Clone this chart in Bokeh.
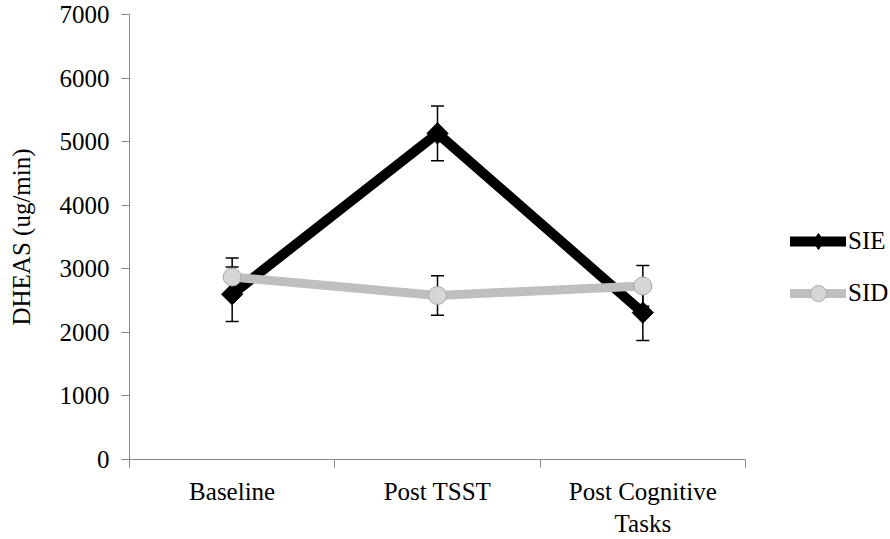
import math
from bokeh.plotting import figure
from bokeh.models import (ColumnDataSource, Range1d, FixedTicker, Whisker, TeeHead,
                          Legend, LegendItem)
from bokeh.embed import file_html
from bokeh.resources import INLINE

# ---- data ----
categories = ["Baseline", "Post TSST", "Post Cognitive\nTasks"]
sie_mean = [2600, 5130, 2310]
sie_err = [430, 430, 440]
sid_mean = [2870, 2580, 2730]
sid_err = [300, 310, 320]
y_ticks = [0, 1000, 2000, 3000, 4000, 5000, 6000, 7000]

FONT = "Liberation Serif"
FS = "25px"
AXIS_GRAY = "#8a8a8a"

x_pos = [i + 0.5 for i in range(len(categories))]
boundaries = list(range(len(categories) + 1))

p = figure(frame_width=616, frame_height=445,
           min_border_left=129, min_border_top=14, min_border_bottom=76, min_border_right=145,
           x_range=Range1d(0, len(categories)), y_range=Range1d(0, 7000),
           output_backend="svg", toolbar_location=None)
p.xgrid.visible = False
p.ygrid.visible = False
p.outline_line_color = None
p.background_fill_color = "white"
p.border_fill_color = "white"

# y axis
ya = p.yaxis[0]
ya.ticker = FixedTicker(ticks=y_ticks)
ya.axis_line_color = AXIS_GRAY
ya.major_tick_line_color = AXIS_GRAY
ya.minor_tick_line_color = None
ya.major_tick_in = 0
ya.major_tick_out = 8
ya.major_label_standoff = 12
ya.major_label_text_font = FONT
ya.major_label_text_font_size = FS
ya.major_label_text_color = "black"
ya.axis_label = "DHEAS (ug/min)"
ya.axis_label_text_font = FONT
ya.axis_label_text_font_size = FS
ya.axis_label_text_font_style = "normal"
ya.axis_label_text_color = "black"
ya.axis_label_standoff = 22

# x axis
xa = p.xaxis[0]
xa.ticker = FixedTicker(ticks=x_pos, minor_ticks=boundaries)
xa.major_label_overrides = {x_pos[i]: categories[i] for i in range(len(categories))}
xa.axis_line_color = AXIS_GRAY
xa.major_tick_line_color = None
xa.minor_tick_line_color = AXIS_GRAY
xa.minor_tick_in = 0
xa.minor_tick_out = 8
xa.major_label_standoff = 10
xa.major_label_text_font = FONT
xa.major_label_text_font_size = FS
xa.major_label_text_color = "black"

# sources
src_sie = ColumnDataSource(dict(
    x=x_pos, y=sie_mean,
    upper=[m + e for m, e in zip(sie_mean, sie_err)],
    lower=[m - e for m, e in zip(sie_mean, sie_err)]))
src_sid = ColumnDataSource(dict(
    x=x_pos, y=sid_mean,
    upper=[m + e for m, e in zip(sid_mean, sid_err)],
    lower=[m - e for m, e in zip(sid_mean, sid_err)]))

for src in (src_sie, src_sid):
    w = Whisker(source=src, base="x", upper="upper", lower="lower", dimension="height",
                line_color="black", line_width=1.5,
                upper_head=TeeHead(size=13, line_color="black", line_width=1.5),
                lower_head=TeeHead(size=13, line_color="black", line_width=1.5))
    p.add_layout(w)

l1 = p.line("x", "y", source=src_sie, line_color="black", line_width=10,
            line_cap="round", line_join="round")
# diamond used for the legend key (sits under the rotated square marks)
m1_key = p.scatter("x", "y", source=src_sie, marker="diamond", size=15,
                   fill_color="black", line_color="black")
m1 = p.scatter("x", "y", source=src_sie, marker="square", angle=math.pi / 4, size=15,
               fill_color="black", line_color="black")
l2 = p.line("x", "y", source=src_sid, line_color="#bfbfbf", line_width=9,
            line_cap="round", line_join="round")
m2 = p.scatter("x", "y", source=src_sid, marker="circle", size=18,
               fill_color="#d6d6d6", line_color="#a8a8a8", line_width=1)

legend = Legend(items=[LegendItem(label="SIE", renderers=[l1, m1_key]),
                       LegendItem(label="SID", renderers=[l2, m2])],
                location=(45, 146), border_line_color=None, background_fill_alpha=0,
                glyph_width=56, glyph_height=40, label_height=20, spacing=12,
                padding=0, margin=0, label_standoff=2,
                label_text_font=FONT, label_text_font_size=FS,
                label_text_color="black")
p.add_layout(legend, "right")

open("out.html", "w").write(file_html(p, INLINE))
